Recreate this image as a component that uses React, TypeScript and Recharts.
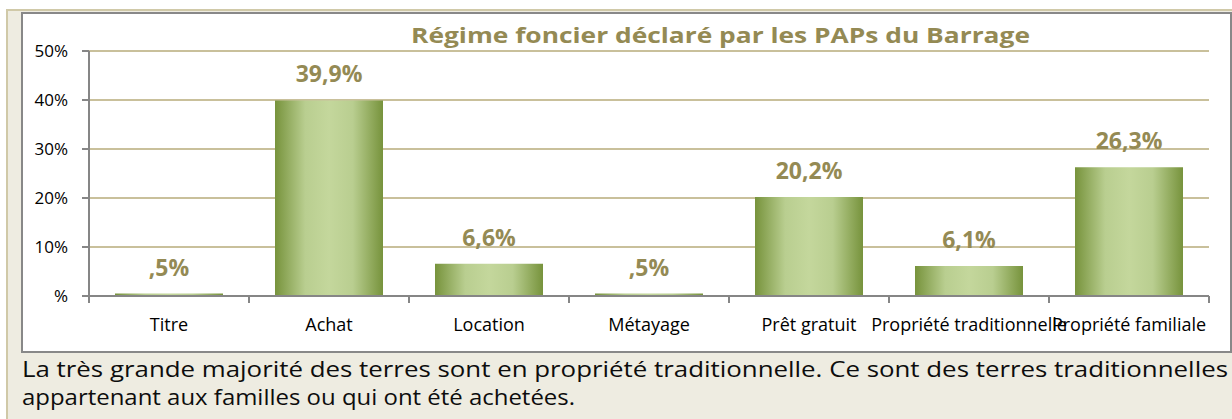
import React from "react";
import { BarChart, Bar, XAxis, YAxis, CartesianGrid, LabelList } from "recharts";

const categories = [
  "Titre",
  "Achat",
  "Location",
  "Métayage",
  "Prêt gratuit",
  "Propriété traditionnelle",
  "Propriété familiale",
];
const values = [0.5, 39.9, 6.6, 0.5, 20.2, 6.1, 26.3];
const valueLabels = [",5%", "39,9%", "6,6%", ",5%", "20,2%", "6,1%", "26,3%"];
const yTicks = [0, 10, 20, 30, 40, 50];
const yTickLabels = ["%", "10%", "20%", "30%", "40%", "50%"];
const title = "Régime foncier déclaré par les PAPs du Barrage";
const bodyLines = [
  "La très grande majorité des terres sont en propriété traditionnelle. Ce sont des terres traditionnelles",
  "appartenant aux familles ou qui ont été achetées.",
];

const data = categories.map((c, i) => ({ cat: c, value: values[i], label: valueLabels[i] }));

const FONT = "'Open Sans', sans-serif";
const AXIS = "#868686";
const TAN = "#948A54";

const XTick = (props: any) => {
  const { x, y, payload, index, visibleTicksCount, width } = props;
  const half =
    payload && payload.offset > 0 ? payload.offset : width / visibleTicksCount / 2;
  return (
    <g>
      <line x1={x - half} y1={y} x2={x - half} y2={y + 7} stroke={AXIS} strokeWidth={2} />
      {index === visibleTicksCount - 1 && (
        <line x1={x + half} y1={y} x2={x + half} y2={y + 7} stroke={AXIS} strokeWidth={2} />
      )}
      <text x={x} y={y + 35} textAnchor="middle" fontFamily={FONT} fontSize={18} fill="#000">
        {payload.value}
      </text>
    </g>
  );
};

export default function App() {
  return (
    <div
      style={{
        position: "absolute",
        left: 0,
        top: 0,
        width: 1232,
        height: 419,
        overflow: "hidden",
        background: "#fff",
      }}
    >
      <div
        style={{
          position: "absolute",
          left: 6,
          top: 9,
          width: 1250,
          height: 430,
          background: "#EEECE1",
          border: "2px solid #D0C9A8",
          boxSizing: "border-box",
        }}
      />
      <div
        style={{
          position: "absolute",
          left: 21,
          top: 12,
          width: 1211,
          height: 341,
          background: "#fff",
          border: "2px solid #888888",
          boxSizing: "border-box",
        }}
      />
      <div style={{ position: "absolute", left: 0, top: 0 }}>
        <BarChart
          width={1232}
          height={419}
          data={data}
          margin={{ top: 51, right: 23, bottom: 83, left: 29 }}
          barCategoryGap="16.25%"
        >
          <defs>
            <linearGradient id="barGrad" x1="0" y1="0" x2="1" y2="0">
              <stop offset="0" stopColor="#77933C" />
              <stop offset="0.28" stopColor="#B9CE90" />
              <stop offset="0.5" stopColor="#C4D79C" />
              <stop offset="0.72" stopColor="#B9CE90" />
              <stop offset="1" stopColor="#77933C" />
            </linearGradient>
          </defs>
          <CartesianGrid vertical={false} stroke="#C9C09B" strokeWidth={2} />
          <XAxis
            dataKey="cat"
            interval={0}
            height={40}
            tickSize={0}
            tickMargin={0}
            tickLine={false}
            axisLine={{ stroke: AXIS, strokeWidth: 2 }}
            tick={<XTick />}
          />
          <YAxis
            width={60}
            domain={[0, 50]}
            ticks={yTicks}
            interval={0}
            tickSize={7}
            tickMargin={14}
            tickLine={{ stroke: AXIS, strokeWidth: 2 }}
            axisLine={{ stroke: AXIS, strokeWidth: 2 }}
            tickFormatter={(v: number) => yTickLabels[yTicks.indexOf(v)]}
            tick={{ fontFamily: FONT, fontSize: 17, fill: "#000" }}
          />
          <Bar dataKey="value" fill="url(#barGrad)" isAnimationActive={false}>
            <LabelList
              dataKey="label"
              position="top"
              offset={18}
              fill={TAN}
              fontFamily={FONT}
              fontSize={23}
              fontWeight="bold"
            />
          </Bar>
        </BarChart>
      </div>
      <svg
        width={1232}
        height={419}
        style={{ position: "absolute", left: 0, top: 0, pointerEvents: "none" }}
      >
        <text
          x={411}
          y={43}
          textLength={619}
          lengthAdjust="spacingAndGlyphs"
          fontFamily={FONT}
          fontWeight="bold"
          fontSize={21}
          fill={TAN}
        >
          {title}
        </text>
        <text
          x={22}
          y={377}
          textLength={1206}
          lengthAdjust="spacingAndGlyphs"
          fontFamily={FONT}
          fontSize={21}
          fill="#0d0d0d"
        >
          {bodyLines[0]}
        </text>
        <text
          x={22}
          y={405}
          textLength={553}
          lengthAdjust="spacingAndGlyphs"
          fontFamily={FONT}
          fontSize={21}
          fill="#0d0d0d"
        >
          {bodyLines[1]}
        </text>
      </svg>
    </div>
  );
}
